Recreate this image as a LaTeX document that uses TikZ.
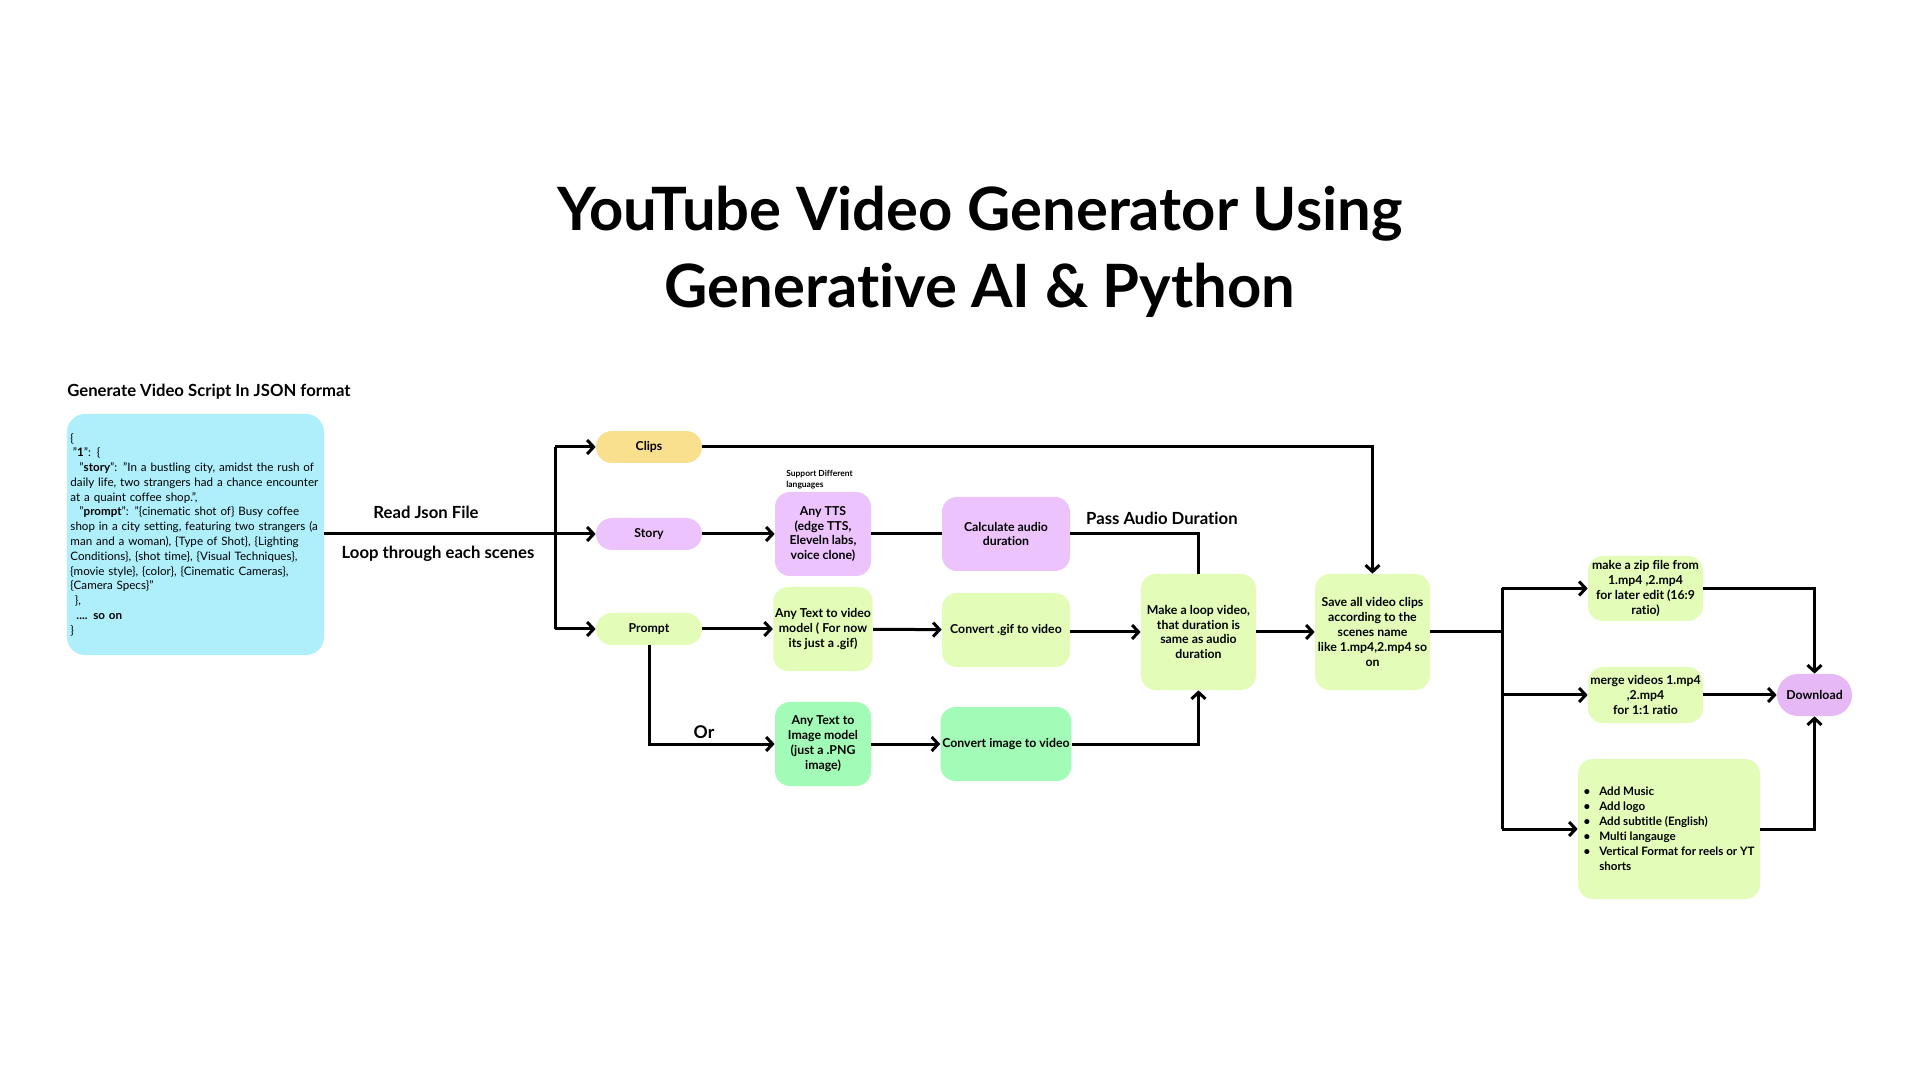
\documentclass[tikz,border=0pt]{standalone}
\usepackage{fontspec}
\setmainfont{Lato}[Ligatures=NoCommon]
\usetikzlibrary{arrows.meta}
\definecolor{jsoncyan}{HTML}{AEEFFB}
\definecolor{lilac}{HTML}{ECC3FC}
\definecolor{lime}{HTML}{E3FDB9}
\definecolor{sand}{HTML}{F8E08E}
\definecolor{mint}{HTML}{A2FCB7}
\definecolor{dlpurple}{HTML}{E6B8F6}

\begin{document}
\begin{tikzpicture}[x=0.2mm,y=-0.2mm,
		box/.style={rounded corners=3mm, align=center, inner sep=1pt, font=\fontsize{7}{8.5}\selectfont\bfseries},
		pill/.style={box, minimum width=21.2mm, minimum height=6.4mm, rounded corners=3.2mm},
		tool/.style={box, minimum width=19.2mm, minimum height=16.8mm},
		conv/.style={box, minimum width=25.6mm, minimum height=14.8mm},
		big/.style={box, minimum width=23mm, minimum height=23.2mm},
		arr/.style={line width=0.6mm, -{Straight Barb[length=1.3mm,width=2.8mm,line width=0.6mm]}},
		link/.style={line width=0.6mm},
		lbl/.style={font=\fontsize{9.5}{11}\selectfont\bfseries}]
		\fill[white] (0,0) rectangle (1920,1080);
		\useasboundingbox (0,0) rectangle (1920,1080);

		\node[align=center, font=\fontsize{34}{43.8}\selectfont\bfseries] (title) at (980,252) {YouTube Video Generator Using\\Generative AI \& Python};

		\node[lbl, anchor=west, inner sep=0] (head) at (67,392) {Generate Video Script In JSON format};
		\node[fill=jsoncyan, rounded corners=3.6mm, minimum width=51.4mm, minimum height=48.2mm, text width=50mm, inner sep=0.5mm, align=left, font=\fontsize{6.6}{8.4}\selectfont] (json) at (195.5,534.5) {%
			\{\\
			\hspace{0.5mm}"\textbf{1}": \{\\
			\hspace{1.8mm}"\textbf{story}": "In a bustling city, amidst the rush of\\
			daily life, two strangers had a chance encounter\\
			at a quaint coffee shop.",\\
			\hspace{1.8mm}"\textbf{prompt}": "\{cinematic shot of\} Busy coffee\\
			shop in a city setting, featuring two strangers (a\\
			man and a woman), \{Type of Shot\}, \{Lighting\\
			Conditions\}, \{shot time\}, \{Visual Techniques\},\\
			\{movie style\}, \{color\}, \{Cinematic Cameras\},\\
			\{Camera Specs\}"\\
			\hspace{0.9mm}\},\\
			\hspace{1.2mm}\textbf{.... so on}\\
			\}};

		\node[pill, fill=sand] (clips) at (649,447) {Clips};
		\node[pill, fill=lilac] (story) at (649,534) {Story};
		\node[pill, fill=lime] (prompt) at (649,629) {Prompt};

		\node[tool, fill=lilac] (tts) at (823,534) {Any TTS\\(edge TTS,\\Eleveln labs,\\voice clone)};
		\node[align=left, anchor=south west, inner sep=0, font=\fontsize{4.8}{5.8}\selectfont\bfseries] (langs) at (786,489) {Support Different\\languages};
		\node[tool, fill=lime] (t2v) at (823,629) {Any Text to video\\model ( For now\\its just a .gif)};
		\node[tool, fill=mint] (t2i) at (823,744) {Any Text to\\Image model\\(just a .PNG\\image)};

		\node[conv, fill=lilac] (calc) at (1006,534) {Calculate audio\\duration};
		\node[conv, fill=lime] (gif) at (1006,630) {Convert .gif to video};
		\node[conv, fill=mint] (img) at (1006,744) {Convert image to video};

		\node[big, fill=lime] (loop) at (1198.5,632) {Make a loop video,\\that duration is\\same as audio\\duration};
		\node[big, fill=lime] (save) at (1372.5,632) {Save all video clips\\according to the\\scenes name\\like 1.mp4,2.mp4 so\\on};

		\node[box, fill=lime, minimum width=23mm, minimum height=13mm] (zip) at (1645.5,588.5) {make a zip file from\\1.mp4 ,2.mp4\\for later edit (16:9\\ratio)};
		\node[box, fill=lime, minimum width=23mm, minimum height=11.2mm] (merge) at (1645.5,695) {merge videos 1.mp4\\,2.mp4\\for 1:1 ratio};
		\node[box, fill=lime, minimum width=36.4mm, minimum height=28mm, align=left, font=\fontsize{6.6}{8.5}\selectfont\bfseries] (feat) at (1669,829) {%
			\textbullet\hspace{1.8mm}Add Music\\
			\textbullet\hspace{1.8mm}Add logo\\
			\textbullet\hspace{1.8mm}Add subtitle (English)\\
			\textbullet\hspace{1.8mm}Multi langauge\\
			\textbullet\hspace{1.8mm}Vertical Format for reels or YT\\
			\phantom{\textbullet}\hspace{1.8mm}shorts};
		\node[box, fill=dlpurple, minimum width=15mm, minimum height=8.4mm, rounded corners=4.2mm] (dl) at (1814.5,695) {Download};

		\coordinate (split) at (555,534);
		\coordinate (fan) at (1502,632);

		\draw[arr] (json.east |- story) -- (story);
		\draw[link] (split |- clips) -- (split |- prompt);
		\draw[arr] (split |- clips) -- (clips);
		\draw[arr] (split |- prompt) -- (prompt);
		\node[lbl] (readlbl) at (426,512) {Read Json File};
		\node[lbl] (looplbl) at (438,554) {Loop through each scenes};

		\draw[arr] (clips) -| (save);
		\draw[arr] (story) -- (tts);
		\draw[link] (tts) -- (calc);
		\draw[link] (calc) -| (loop);
		\node[lbl, anchor=west] (passlbl) at (1080,518) {Pass Audio Duration};

		\draw[arr] (prompt) -- (t2v);
		\draw[arr] (t2v) -- (gif);
		\draw[arr] (gif.east |- loop) -- (loop);
		\draw[arr] (prompt.south) |- (t2i);
		\node[font=\fontsize{10}{12}\selectfont\bfseries] (orlbl) at (704,732) {Or};
		\draw[arr] (t2i) -- (img);
		\draw[arr] (img) -| (loop);

		\draw[arr] (loop) -- (save);
		\draw[link] (save) -- (fan);
		\draw[link] (fan |- zip) -- (fan |- feat);
		\draw[arr] (fan |- zip) -- (zip);
		\draw[arr] (fan |- merge) -- (merge);
		\draw[arr] (fan |- feat) -- (feat);
		\draw[arr] (zip) -| (dl);
		\draw[arr] (merge) -- (dl);
		\draw[arr] (feat) -| (dl);
	\end{tikzpicture}
\end{document}
